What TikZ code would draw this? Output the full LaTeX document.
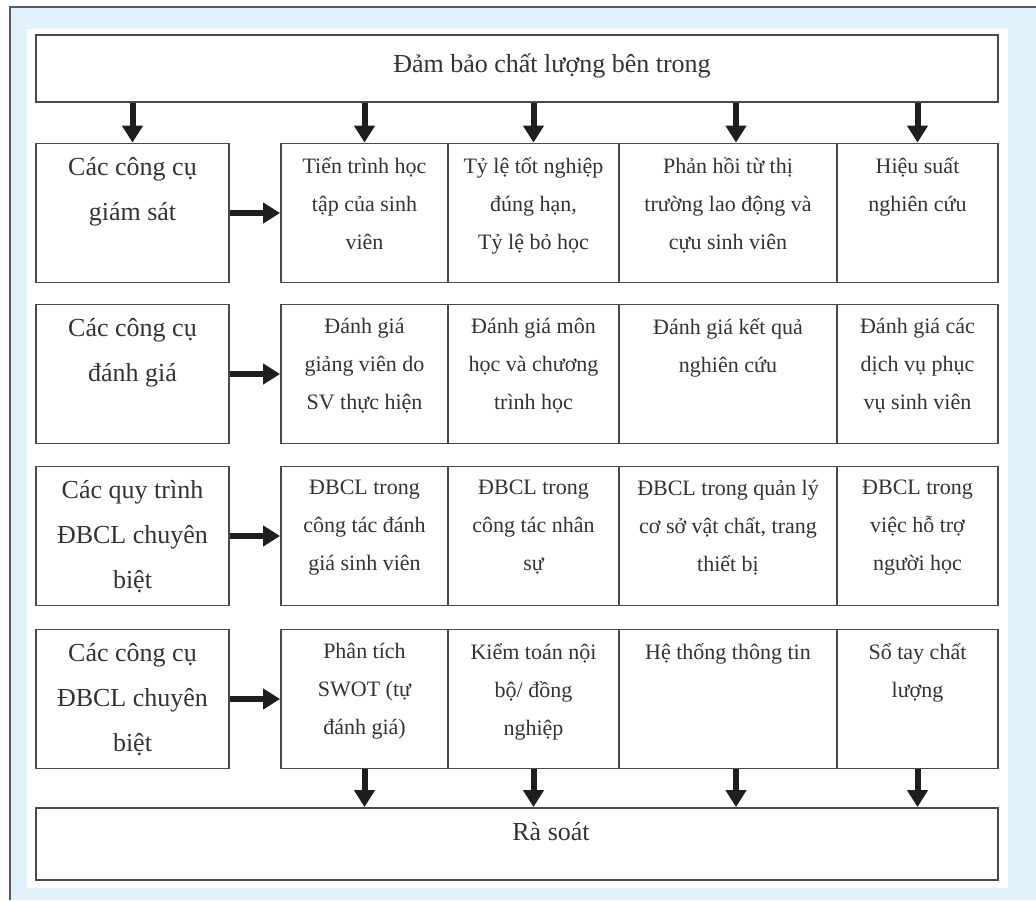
\documentclass[tikz,border=0pt]{standalone}
\usepackage{fontspec}
\setmainfont{Liberation Serif}
\usetikzlibrary{arrows.meta, positioning}
\definecolor{panelblue}{HTML}{E1F2FC}
\definecolor{framegray}{HTML}{5A5A5A}
\definecolor{boxgray}{HTML}{4A4A4A}
\definecolor{inkgray}{HTML}{333333}
\definecolor{arrowblack}{HTML}{1E1E1E}

\begin{document}
\begin{tikzpicture}[x=1pt, y=-1pt,
  cellbox/.style={rectangle, draw=boxgray, line width=1.8pt, fill=white, inner sep=0pt},
  bigtext/.style={font=\fontsize{26}{45}\selectfont, text=inkgray, align=center, inner sep=0pt},
  smalltext/.style={font=\fontsize{22}{38}\selectfont, text=inkgray, align=center, inner sep=0pt},
  toolarrow/.style={draw=arrowblack, line width=6pt, -{Triangle[width=20pt, length=17pt]}}]
\useasboundingbox (0,0) rectangle (1036,900);

% Frame and panel
\fill[white] (0,0) rectangle (1036,900);
\fill[panelblue] (10,7) rectangle (1036,900);
\draw[framegray, line width=1.5pt] (10,900) -- (10,7) -- (1036,7);
\fill[white] (27,29) rectangle (1008,888);

% Top and bottom boxes
\node[cellbox, minimum width=962pt, minimum height=67pt] (qa) at (517,68.5) {};
\node[bigtext, anchor=base] (qatxt) at (552,72) {Đảm bảo chất lượng bên trong};
\node[cellbox, minimum width=962pt, minimum height=72pt] (review) at (517,844) {};
\node[bigtext, anchor=base] (reviewtxt) at (551,840) {Rà soát};

% Left column - groups of tools
\node[cellbox, minimum width=193pt, minimum height=139pt] (lft1) at (132.5,213) {};
\node[cellbox, minimum width=193pt, minimum height=139pt] (lft2) at (132.5,374) {};
\node[cellbox, minimum width=193pt, minimum height=139pt] (lft3) at (132.5,536) {};
\node[cellbox, minimum width=193pt, minimum height=139pt] (lft4) at (132.5,699) {};
\node[bigtext, below=14.5pt of lft1.north] (tl1) {Các công cụ\\giám sát};
\node[bigtext, below=14.5pt of lft2.north] (tl2) {Các công cụ\\đánh giá};
\node[bigtext, below=14.5pt of lft3.north] (tl3) {Các quy trình\\ĐBCL chuyên\\biệt};
\node[bigtext, below=14.5pt of lft4.north] (tl4) {Các công cụ\\ĐBCL chuyên\\biệt};

% First row - monitoring
\node[cellbox, minimum width=167pt, minimum height=139pt] (c11) at (364.5,213) {};
\node[cellbox, minimum width=171pt, minimum height=139pt] (c12) at (533.5,213) {};
\node[cellbox, minimum width=218pt, minimum height=139pt] (c13) at (728,213) {};
\node[cellbox, minimum width=161pt, minimum height=139pt] (c14) at (917.5,213) {};
\node[smalltext, below=14.5pt of c11.north] (t11) {Tiến trình học\\tập của sinh\\viên};
\node[smalltext, below=14.5pt of c12.north] (t12) {Tỷ lệ tốt nghiệp\\đúng hạn,\\Tỷ lệ bỏ học};
\node[smalltext, below=14.5pt of c13.north] (t13) {Phản hồi từ thị\\trường lao động và\\cựu sinh viên};
\node[smalltext, below=14.5pt of c14.north] (t14) {Hiệu suất\\nghiên cứu};

% Second row - evaluation
\node[cellbox, minimum width=167pt, minimum height=139pt] (c21) at (364.5,374) {};
\node[cellbox, minimum width=171pt, minimum height=139pt] (c22) at (533.5,374) {};
\node[cellbox, minimum width=218pt, minimum height=139pt] (c23) at (728,374) {};
\node[cellbox, minimum width=161pt, minimum height=139pt] (c24) at (917.5,374) {};
\node[smalltext, below=14.5pt of c21.north] (t21) {Đánh giá\\giảng viên do\\SV thực hiện};
\node[smalltext, below=14.5pt of c22.north] (t22) {Đánh giá môn\\học và chương\\trình học};
\node[smalltext, below=14.5pt of c23.north] (t23) {Đánh giá kết quả\\nghiên cứu};
\node[smalltext, below=14.5pt of c24.north] (t24) {Đánh giá các\\dịch vụ phục\\vụ sinh viên};

% Third row - specific processes
\node[cellbox, minimum width=167pt, minimum height=139pt] (c31) at (364.5,536) {};
\node[cellbox, minimum width=171pt, minimum height=139pt] (c32) at (533.5,536) {};
\node[cellbox, minimum width=218pt, minimum height=139pt] (c33) at (728,536) {};
\node[cellbox, minimum width=161pt, minimum height=139pt] (c34) at (917.5,536) {};
\node[smalltext, below=14.5pt of c31.north] (t31) {ĐBCL trong\\công tác đánh\\giá sinh viên};
\node[smalltext, below=14.5pt of c32.north] (t32) {ĐBCL trong\\công tác nhân\\sự};
\node[smalltext, below=14.5pt of c33.north] (t33) {ĐBCL trong quản lý\\cơ sở vật chất, trang\\thiết bị};
\node[smalltext, below=14.5pt of c34.north] (t34) {ĐBCL trong\\việc hỗ trợ\\người học};

% Fourth row - specific tools
\node[cellbox, minimum width=167pt, minimum height=139pt] (c41) at (364.5,699) {};
\node[cellbox, minimum width=171pt, minimum height=139pt] (c42) at (533.5,699) {};
\node[cellbox, minimum width=218pt, minimum height=139pt] (c43) at (728,699) {};
\node[cellbox, minimum width=161pt, minimum height=139pt] (c44) at (917.5,699) {};
\node[smalltext, below=14.5pt of c41.north] (t41) {Phân tích\\SWOT (tự\\đánh giá)};
\node[smalltext, below=14.5pt of c42.north] (t42) {Kiểm toán nội\\bộ/ đồng\\nghiệp};
\node[smalltext, below=14.5pt of c43.north] (t43) {Hệ thống thông tin};
\node[smalltext, below=14.5pt of c44.north] (t44) {Sổ tay chất\\lượng};

% Draw connections
\draw[toolarrow] (qa.south -| lft1) -- (lft1.north);
\draw[toolarrow] (qa.south -| c11) -- (c11.north);
\draw[toolarrow] (qa.south -| c12) -- (c12.north);
\draw[toolarrow] ([xshift=8pt]c13.north |- qa.south) -- ([xshift=8pt]c13.north);
\draw[toolarrow] (qa.south -| c14) -- (c14.north);
\draw[toolarrow] (lft1.east) -- (lft1.east -| c11.west);
\draw[toolarrow] (lft2.east) -- (lft2.east -| c21.west);
\draw[toolarrow] (lft3.east) -- (lft3.east -| c31.west);
\draw[toolarrow] (lft4.east) -- (lft4.east -| c41.west);
\draw[toolarrow] (c41.south) -- (c41.south |- review.north);
\draw[toolarrow] (c42.south) -- (c42.south |- review.north);
\draw[toolarrow] ([xshift=8pt]c43.south) -- ([xshift=8pt]c43.south |- review.north);
\draw[toolarrow] (c44.south) -- (c44.south |- review.north);
\end{tikzpicture}
\end{document}
